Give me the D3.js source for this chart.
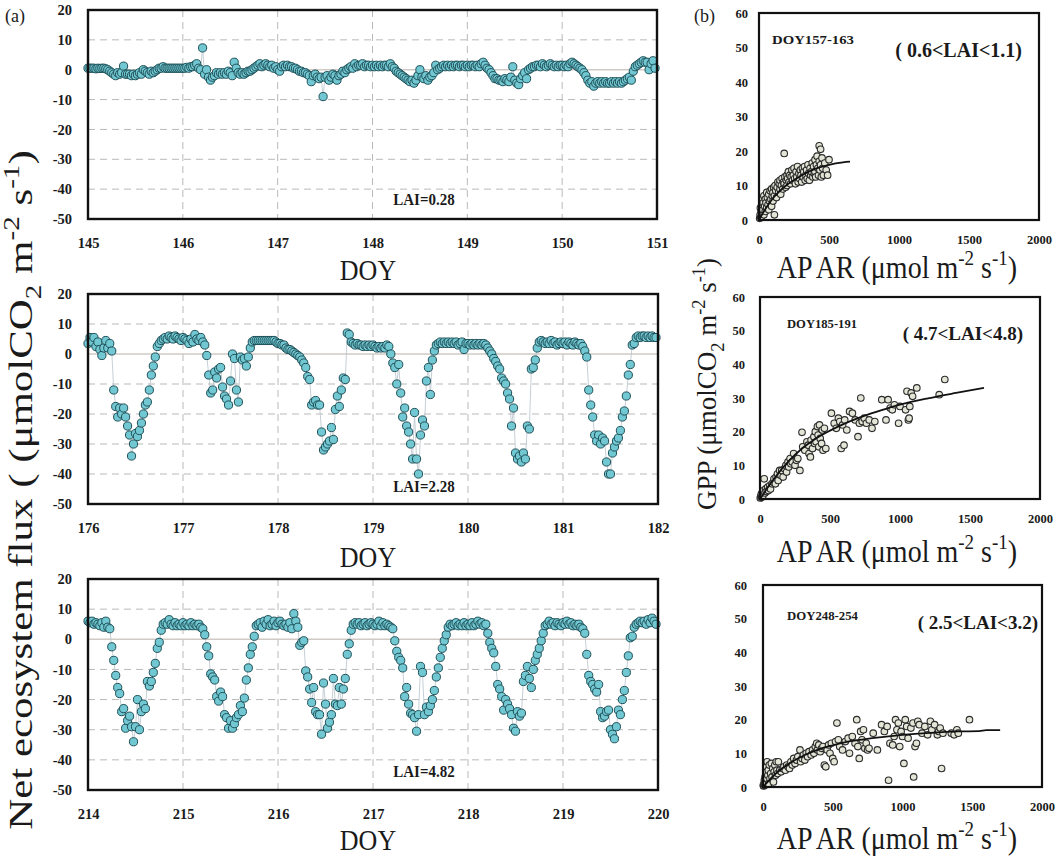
<!DOCTYPE html>
<html>
<head>
<meta charset="utf-8">
<script src="https://cdn.jsdelivr.net/npm/d3@7"></script>
<style>
  html, body { margin: 0; padding: 0; background: #fff; }
  svg { display: block; }
</style>
</head>
<body>
<svg id="chart" width="1059" height="857"></svg>
<script>
// ---------------- data ----------------
// (a) half-hourly net ecosystem flux, 48 values per day, six days per panel
const doyStarts = [145, 176, 214];
const laiLabels = ["LAI=0.28", "LAI=2.28", "LAI=4.82"];

const nee145 = [
  0.5,0.5,0.5,0.5,0.3,0.5,0.4,0.5,0.5,0.3, 0,-0.5,-1,-1.5,-2,-1,-1.5,-1,1.2,-1.5,
  -1.5,-1.5,-2,-1.5,-2,-1.5,-1,-1.5,0,-0.5, -1,-1.5,-0.5,-1,-0.5,0,0.5,0.5,1,0.5,
  0.5,0.5,0.5,0.5,0.5,0.5,0.5,0.5,
  0.5,0.5,0.8,0.5,1,1,1.5,2,0.5,0, 7.3,-1.5,0,-2.5,-3.5,-2.5,-2,-1,-1.5,-1,
  -1.5,-1,-1.5,-0.5,-1,-2,2.5,0.5,-1,-1.5, -1,-1.5,-1,-0.5,-0.5,0,0.5,1,1.5,2,
  1,1.5,2,1.5,1,1.5,0.5,1,
  0,-0.5,1,1.5,1,1.5,1,1,0.5,0.5, 0,-0.5,-0.5,-1,-1,-1.5,-2,-4,-2,-1.5,
  -2.5,-3,-2.5,-9,-2.5,-2,-3.5,-2.5,-1.5,-2, -3.5,-2,-1.5,-0.5,-1,0,0.5,1,0.5,2,
  1,1.5,1.5,2,1,1.5,1.5,1,
  1.5,1,1.5,1,1.5,1,1.5,1.5,1,2, 1,0.5,-0.5,-1,-1.5,-2,-2.5,-3,-3.5,-4,
  -3.5,-4.5,-3.5,-2,0,-2.5,-3,-2,-3.5,-2.5, -2,-1,1.5,0,0.5,1,1.5,1,1.5,1,
  1.5,1,1.5,1.5,1,1.5,1.5,1,
  1.5,1,1.5,1.5,1,1.5,1,2,2.5,1.5, 0.5,0,-1,-2,-3,-3,-3.5,-3.5,-4,-3,
  -3.5,-4,-2.5,1,-3.5,-4.5,-5,-3,-2,-1, -3,0,0.5,1,1,1.5,1.5,1,2,1.5,
  1,1.5,2,1.5,1,1.5,1,1.5,
  1.5,1,1.5,1,2,2.5,2,1.5,1,0.5, 0,-1,-2,-3.5,-4.5,-4,-5.5,-4.5,-4,-4.5,
  -4,-4.5,-4,-4.5,-4.5,-4,-4.5,-4,-4.5,-4, -4.5,-4,-3.5,-3,-2.5,-3.5,-0.5,1,1.5,2,
  2.5,3,2.5,2.5,0,2,3,0.5
];

const nee176 = [
  3.5,5.5,4,5.5,2.5,4,1.5,-0.5,2,4.5, 2,3.5,1,-12,-17.5,-21,-18,-20,-18,-21,
  -24,-27,-34,-30,-26.5,-27.5,-25.5,-23,-20,-17, -16,-12,-7,-4,-1,2.5,3.5,4.5,5,5.5,
  5,6,5.5,5,6,5.5,5,4.5,
  5.5,5,4.5,3.5,5,4,6.5,5,4.5,5.5, 4,3,-0.5,-7,-13,-12,-6,-8,-5,-4.5,
  -11,-14,-15,-17,-9,0,-1.5,-12,-16,-1, -2,-1.5,-4,-1,2,4,4.5,4.5,4.5,4.5,
  4.5,4.5,4.5,4.5,4.5,4.5,4.5,4,
  3.5,3.5,3,3,2,1.5,1.5,1,0.5,0, -0.5,-1,-2,-3,-4.5,-7.5,-8.5,-17,-16,-15.5,
  -17,-17,-26,-32,-31,-30,-29,-24.5,-28.5,-18.5, -14,-17.5,-12,-8,-8.5,7,6.5,4,3.5,3,
  3.5,3,3,2.5,3,2.5,3,2.5,
  3,2.5,2,2.5,2,2.5,2,3,2.5,0, -3,-4.5,-10,-3.5,-13,-21,-18,-24,-26,-30,
  -35,-19.5,-35,-40,-27,-22,-24,-9,-4.5,-13.5, -2,1,3,3.5,4,3.5,4,3.5,4,3.5,
  4,3.5,4,3,3.5,4,1.5,3.5,
  3.5,3,3.5,3,3.5,3,3.5,3,3.5,3, 2,1,0,-1.5,-2.5,-4,-5,-8,-9,-10,
  -13,-15,-24,-18,-33,-35,-34,-36,-33,-35, -24,-25,-5,-4.5,-2,2,4,4.5,4,3.5,
  4,3.5,4.5,3.5,4,3,3.5,4,
  3.5,4,3,4,3.5,3,4,3.5,3,3.5, 2.5,1,-1,-12,-17,-21,-27,-29,-27,-30,
  -28,-29,-36,-40,-40,-33,-31,-29,-28,-25.5, -21,-19,-14,-7,-3.5,3,3.5,5.5,6,5.5,
  6,6,5.5,6,5.5,6,5.5,5.5
];

const nee214 = [
  6,5.5,6,5,5.5,5,4.5,5.5,4,6, 4,3.5,-2.5,-7,-12,-16,-18,-24,-23,-29.5,
  -27,-25.5,-29,-34,-29,-20,-30,-24,-21.5,-23, -14,-15.5,-14,-11,-8,-3,-1,3,5,5.5,
  5,6.5,5,4.5,5.5,4.5,5,4.5,
  5.5,4.5,5,4.5,5.5,4.5,5,4.5,5,4, 3.5,1.5,-2.5,-5.5,-11.5,-12.5,-13.5,-19,-20.5,-17.5,
  -19,-25,-26,-29.5,-27,-29.5,-28,-26,-25,-22, -24,-19.5,-13.5,-9.5,-5,-2.5,1,4.5,5,5.5,
  4,6,5,6.5,4.5,5,6,4.5,
  5.5,6,5,4.5,5,4,5.5,3.5,8.5,6, 4,-2,-1,-0.5,-10.5,-12.5,-16.5,-21,-16,-24,
  -25,-25,-31.5,-14.5,-21.5,-29.5,-27.5,-25,-13,-21.5, -22,-16,-21.5,-16.5,-13,-5,-1.5,3,5,5.5,
  5,5.5,4.5,5,5.5,4.5,5,5.5,
  5,4.5,5,6,4.5,5.5,4.5,5,4.5,4, 3.5,-0.5,-4,-6,-7,-9.5,-19,-16,-21.5,-24.5,
  -25,-26,-30.5,-25,-9,-11,-25,-22.5,-24,-22, -20,-17,-12.5,-9.5,-6,-3,-0.5,1.5,4,5,
  4.5,5,5.5,4.5,5,4.5,5.5,4.5,
  5,4.5,5.5,4.5,5,6,5,5.5,4.5,5, 2,-1,-3,-4.5,-9,-15,-16.5,-19,-23.5,-20,
  -21.5,-23,-25,-29.5,-30.5,-24,-25.5,-24.5,-14,-12, -9,-13,-16,-10,-7,-5,-3,-0.5,2,4.5,
  5,6,5,5.5,4.5,5.5,5,4.5,
  5.5,5,6,5,5.5,4.5,5,4.5,5,4, 3.5,2,-5,-12,-14,-15,-16.5,-17.5,-15,-24,
  -26,-25.5,-24,-23.5,-30,-31.5,-33,-29,-23.5,-25, -20,-17,-11,-5.5,0.5,1,4,5,5.5,6,
  5.5,6,5,6.5,5.5,7,6,5
];

const fluxTicks = [20, 10, 0, -10, -20, -30, -40, -50];

// (b) GPP against APAR, [APAR, GPP] pairs, with the fitted light-response curves
const periodLabels = ["DOY157-163", "DOY185-191", "DOY248-254"];
const laiRanges = ["( 0.6<LAI<1.1)", "( 4.7<LAI<4.8)", "( 2.5<LAI<3.2)"];
const gppTicks = [0, 10, 20, 30, 40, 50, 60];
const aparTicks = [0, 500, 1000, 1500, 2000];

const gpp157 = [
  [5,0.5],[8,1.5],[12,0.8],[15,2.5],[10,3.5],[18,1],[20,4.5],[25,2],[22,6],[28,3],
  [30,5],[35,1.5],[35,7],[40,4],[45,2.5],[45,6],[50,5],[55,3.5],[55,8],[60,6.5],
  [65,4.5],[70,7.5],[70,3],[75,5.5],[80,8.5],[85,6],[90,9],[90,4],[95,7],[100,8],
  [100,5.5],[105,9.5],[110,1.5],[110,7],[115,10],[120,8.5],[125,6.5],[130,9.5],[135,11],[140,8],
  [145,10.5],[150,9],[150,11.5],[155,7.5],[160,10],[165,12],[170,9],[175,11],[180,19.3],[180,10.5],
  [185,12.5],[190,9.5],[195,11.5],[200,13],[200,10],[205,12],[210,14],[215,11],[220,13],[225,10.5],
  [230,12.5],[235,14.5],[240,11.5],[245,13],[250,15],[255,12],[260,10.5],[265,14],[270,12.5],[275,15.5],
  [280,11],[285,13.5],[290,12],[295,14.5],[300,13],[305,11],[310,15],[315,12.5],[320,14],[325,15.5],
  [330,11.5],[335,13],[340,14.5],[345,12],[350,16],[355,13.5],[360,11.5],[365,15],[370,13],[375,14],
  [380,16.5],[385,12.5],[390,15.5],[395,13.5],[400,17.5],[400,14],[405,12.5],[410,16],[415,18.5],[420,15],
  [425,13],[430,21.5],[430,17],[435,14.5],[440,20.5],[440,16],[445,12.5],[450,18],[455,15],[460,13],
  [470,16.5],[480,14.5],[490,13],[500,17.5]
];
const fit157 = [[0,0],[50,3.5],[100,6.3],[200,10.2],[300,12.8],[400,14.8],[500,16],[600,16.7],[650,16.9]];

const gpp185 = [
  [2,0.3],[5,0.8],[10,1.5],[12,0.5],[18,2],[20,1],[25,2.5],[30,6],[35,1.8],[40,3],
  [45,2.2],[55,3.5],[60,2.5],[70,4],[75,3],[85,4.5],[95,5],[100,6],[110,4.5],[115,6.5],
  [125,7.5],[130,5.5],[140,8.5],[150,7],[155,8.5],[165,6.5],[175,9],[185,10],[190,8],[200,11],
  [205,9.5],[215,12],[220,10.5],[230,11],[240,13.5],[250,10],[260,11.5],[270,12],[285,8.5],[300,19.8],
  [305,15.5],[320,14.5],[335,17],[345,16],[350,13.5],[360,12.5],[365,17.5],[375,15],[385,18.5],[390,16.5],
  [395,20],[400,17],[410,21.5],[415,19],[420,15.5],[425,22],[430,18],[440,16.5],[445,20.5],[450,14.5],
  [460,21],[470,15],[510,25.5],[530,22.5],[545,21],[560,24],[570,23],[580,15],[590,22],[600,16],
  [605,23.5],[620,20.5],[640,26],[660,25.5],[680,23.5],[700,18.5],[710,22.5],[720,30],[730,23],[745,24],
  [760,22.5],[780,23.5],[800,21],[820,23],[870,29.5],[900,23.5],[915,29.5],[930,27],[945,26.5],[960,28],
  [990,22.5],[1000,27.5],[1040,26.5],[1050,32],[1060,23.5],[1065,24],[1070,27.5],[1080,31.5],[1090,30.5],[1120,33],
  [1280,31],[1320,35.5]
];
const fit185 = [[0,0],[100,6],[200,11],[300,15],[400,18],[500,20.3],[600,22.3],[700,24],[800,25.5],
  [900,26.8],[1000,28],[1200,29.9],[1400,31.5],[1600,33]];

const gpp248 = [
  [2,0.5],[5,0.3],[8,1],[10,2],[12,0.5],[15,3],[18,1.5],[20,4.5],[22,0.8],[25,6],
  [28,2.5],[30,7.5],[35,3.5],[38,5],[40,1],[45,6.5],[50,2.5],[55,4],[60,7],[65,3],
  [70,5.5],[75,1.5],[80,4.5],[85,6.5],[90,3.5],[95,7.5],[100,5],[105,4],[110,7.5],[120,5],
  [130,4.5],[140,5.5],[150,6],[160,5],[170,6.5],[180,6],[190,5.5],[200,7.5],[210,6.5],[220,8.5],
  [230,7],[240,8],[250,9],[265,11],[270,7.5],[280,8.5],[290,9.5],[300,8],[310,10],[320,9],
  [330,10.5],[345,9.5],[355,11],[365,10],[375,12],[385,13],[390,11],[400,12.5],[410,10.5],[420,11.5],
  [430,12],[440,6.5],[450,6],[460,11],[470,12.5],[480,10],[490,13],[500,8.5],[510,7.5],[520,13.5],
  [530,19],[540,14],[550,12],[570,11],[590,13.5],[610,14.5],[620,10],[640,15],[660,13],[672,20],
  [680,12],[690,8.5],[700,16.5],[710,14],[720,17],[730,11.5],[740,13],[750,11],[760,11.5],[790,16],
  [820,11],[850,18.5],[870,16.5],[890,18],[900,2],[910,13],[930,12.5],[940,15],[950,20],[960,17],
  [970,19],[980,12],[990,16.5],[1000,15],[1010,7],[1020,20],[1030,18],[1040,14.5],[1060,17.5],[1075,19],
  [1080,3],[1090,12],[1100,13],[1110,19.5],[1120,18.5],[1140,16],[1160,18],[1180,15.5],[1200,19.5],[1210,17],
  [1230,18.5],[1250,15.5],[1260,16.5],[1270,17.5],[1280,5.5],[1290,16],[1350,16],[1370,15.5],[1390,17],[1400,16],
  [1480,20]
];
const fit248 = [[0,0],[100,4.3],[200,7.3],[300,9.5],[400,11.2],[500,12.4],[600,13.4],[800,14.6],
  [1000,15.5],[1200,16.1],[1400,16.5],[1550,16.6],[1600,16.9],[1700,16.9]];

// ---------------- layout ----------------
const SERIF = '"Liberation Serif","Times New Roman",Times,serif';
const svg = d3.select("#chart");

const fluxLayout = [
  { left: 88, right: 657, top: 10,  bottom: 219, doyY: 280, laiY: 205 },
  { left: 88, right: 658, top: 294, bottom: 504, doyY: 567, laiY: 492 },
  { left: 88, right: 658, top: 579, bottom: 790, doyY: 850, laiY: 777 }
];
const gppLayout = [
  { left: 759, right: 1039, top: 13,  bottom: 220, yLab: 748, aparY: 278,
    period: { x: 772, y: 44, w: 82 },  range: { x: 1022, y: 57, size: 20 } },
  { left: 760, right: 1040, top: 297, bottom: 499, yLab: 745, aparY: 562,
    period: { x: 787, y: 328, w: 70 }, range: { x: 1023, y: 340, size: 19 } },
  { left: 763, right: 1042, top: 585, bottom: 787, yLab: 747, aparY: 849,
    period: { x: 787, y: 620, w: 71 }, range: { x: 1038, y: 629, size: 19 } }
];

// text with sub/superscript pieces; shifts are in px of the base size
function richText(sel, parts, size) {
  let shift = 0;
  parts.forEach(p => {
    const target = p.sub ? 0.28 * size : p.sup ? -0.4 * size : 0;
    const ts = sel.append("tspan").text(p.t).attr("dy", target - shift);
    if (p.sub || p.sup) ts.attr("font-size", size * 0.68);
    if (p.dx) ts.attr("dx", p.dx);
    shift = target;
  });
}

function styleTicks(g, size) {
  g.select(".domain").remove();
  g.selectAll("text")
    .attr("font-family", SERIF)
    .attr("font-weight", "bold")
    .attr("font-size", size)
    .attr("fill", "#1a1a1a");
}

// ---------------- (a) flux panels ----------------
const fluxSeries = [nee145, nee176, nee214];

fluxLayout.forEach((L, k) => {
  const start = doyStarts[k];
  const x = d3.scaleLinear().domain([start, start + 6]).range([L.left, L.right]);
  const y = d3.scaleLinear().domain([-50, 20]).range([L.bottom, L.top]);
  const g = svg.append("g");

  // dashed grid
  g.selectAll("line.vgrid").data(d3.range(start + 1, start + 6)).join("line")
    .attr("x1", d => x(d)).attr("x2", d => x(d))
    .attr("y1", L.top).attr("y2", L.bottom)
    .attr("stroke", "#b9b9b9").attr("stroke-width", 1).attr("stroke-dasharray", "7,5");
  g.selectAll("line.hgrid").data(fluxTicks.filter(t => t !== 0 && t !== 20 && t !== -50)).join("line")
    .attr("x1", L.left).attr("x2", L.right)
    .attr("y1", d => y(d)).attr("y2", d => y(d))
    .attr("stroke", "#b9b9b9").attr("stroke-width", 1).attr("stroke-dasharray", "7,5");
  g.append("line")
    .attr("x1", L.left).attr("x2", L.right).attr("y1", y(0)).attr("y2", y(0))
    .attr("stroke", "#cfcac4").attr("stroke-width", 1.6);

  const pts = fluxSeries[k].map((v, i) => ({ t: start + i / 48, v }));
  g.append("path").datum(pts)
    .attr("d", d3.line().x(d => x(d.t)).y(d => y(d.v)))
    .attr("fill", "none").attr("stroke", "#b7c3cc").attr("stroke-width", 0.8);
  g.selectAll("circle").data(pts).join("circle")
    .attr("cx", d => x(d.t)).attr("cy", d => y(d.v)).attr("r", 4.1)
    .attr("fill", "#72c8d2").attr("stroke", "#1f5058").attr("stroke-width", 1);

  g.append("rect")
    .attr("x", L.left).attr("y", L.top)
    .attr("width", L.right - L.left).attr("height", L.bottom - L.top)
    .attr("fill", "none").attr("stroke", "#111").attr("stroke-width", 2.4);

  g.append("g").attr("transform", `translate(${L.left},0)`)
    .call(d3.axisLeft(y).tickValues(fluxTicks).tickSize(0).tickPadding(L.left - 72).tickFormat(d => String(d)))
    .call(s => styleTicks(s, 14.5));
  g.append("g").attr("transform", `translate(0,${L.bottom})`)
    .call(d3.axisBottom(x).tickValues(d3.range(start, start + 7)).tickSize(0).tickPadding(19).tickFormat(d3.format("d")))
    .call(s => styleTicks(s, 14.5));

  g.append("text")
    .attr("transform", `translate(424,${L.laiY}) scale(1,1.15)`)
    .attr("text-anchor", "middle").attr("font-family", SERIF).attr("font-weight", "bold")
    .attr("font-size", 15).attr("fill", "#1a1a1a").text(laiLabels[k]);

  g.append("text")
    .attr("transform", `translate(368,${L.doyY}) scale(1,1.12)`)
    .attr("text-anchor", "middle").attr("font-family", SERIF)
    .attr("font-size", 26).attr("fill", "#1a1a1a").text("DOY");
});

// ---------------- (b) GPP panels ----------------
const gppSeries = [gpp157, gpp185, gpp248];
const fitSeries = [fit157, fit185, fit248];

gppLayout.forEach((L, k) => {
  const x = d3.scaleLinear().domain([0, 2000]).range([L.left, L.right]);
  const y = d3.scaleLinear().domain([0, 60]).range([L.bottom, L.top]);
  const g = svg.append("g");

  g.selectAll("circle").data(gppSeries[k]).join("circle")
    .attr("cx", d => x(d[0])).attr("cy", d => y(d[1])).attr("r", 3.3)
    .attr("fill", "#e3e6d6").attr("stroke", "#2b2b2b").attr("stroke-width", 1.1);
  g.append("path").datum(fitSeries[k])
    .attr("d", d3.line().curve(d3.curveMonotoneX).x(d => x(d[0])).y(d => y(d[1])))
    .attr("fill", "none").attr("stroke", "#111").attr("stroke-width", 1.8);

  g.append("rect")
    .attr("x", L.left).attr("y", L.top)
    .attr("width", L.right - L.left).attr("height", L.bottom - L.top)
    .attr("fill", "none").attr("stroke", "#111").attr("stroke-width", 2.2);

  g.append("g").attr("transform", `translate(${L.left},0)`)
    .call(d3.axisLeft(y).tickValues(gppTicks).tickSize(0).tickPadding(L.left - L.yLab).tickFormat(d => String(d)))
    .call(s => styleTicks(s, 12.5));
  g.append("g").attr("transform", `translate(0,${L.bottom})`)
    .call(d3.axisBottom(x).tickValues(aparTicks).tickSize(0).tickPadding(15).tickFormat(d => String(d)))
    .call(s => styleTicks(s, 12.5));

  g.append("text")
    .attr("x", L.period.x).attr("y", L.period.y)
    .attr("font-family", SERIF).attr("font-weight", "bold").attr("font-size", 11.5)
    .attr("textLength", L.period.w).attr("lengthAdjust", "spacingAndGlyphs")
    .attr("fill", "#1a1a1a").text(periodLabels[k]);
  g.append("text")
    .attr("x", L.range.x).attr("y", L.range.y).attr("text-anchor", "end")
    .attr("font-family", SERIF).attr("font-weight", "bold").attr("font-size", L.range.size)
    .attr("fill", "#1a1a1a").text(laiRanges[k]);

  const ap = g.append("text")
    .attr("transform", `translate(897,${L.aparY}) scale(1,1.12)`)
    .attr("text-anchor", "middle").attr("font-family", SERIF)
    .attr("font-size", 28).attr("fill", "#1a1a1a");
  richText(ap, [{ t: "AP" }, { t: "AR  (μmol m", dx: 3 }, { t: "-2", sup: true }, { t: " s" }, { t: "-1", sup: true }, { t: ")" }], 28);
});

// ---------------- shared titles ----------------
const yTitle = svg.append("text")
  .attr("transform", "translate(32,490) rotate(-90) scale(1.3,1)")
  .attr("text-anchor", "middle").attr("font-family", SERIF)
  .attr("font-size", 33).attr("fill", "#1a1a1a");
richText(yTitle, [{ t: "Net ecosystem flux ( (μmolCO" }, { t: "2", sub: true }, { t: " m" },
  { t: "-2", sup: true }, { t: " s" }, { t: "-1", sup: true }, { t: ")" }], 33);

const gppTitle = svg.append("text")
  .attr("transform", "translate(716,384) rotate(-90)")
  .attr("text-anchor", "middle").attr("font-family", SERIF)
  .attr("font-size", 27).attr("fill", "#1a1a1a");
richText(gppTitle, [{ t: "GPP (μmolCO" }, { t: "2", sub: true }, { t: " m" },
  { t: "-2", sup: true }, { t: " s" }, { t: "-1", sup: true }, { t: ")" }], 27);

svg.append("text").attr("x", 5).attr("y", 22)
  .attr("font-family", SERIF).attr("font-size", 18).attr("fill", "#1a1a1a").text("(a)");
svg.append("text").attr("x", 694).attr("y", 22)
  .attr("font-family", SERIF).attr("font-size", 18).attr("fill", "#1a1a1a").text("(b)");
</script>
</body>
</html>
